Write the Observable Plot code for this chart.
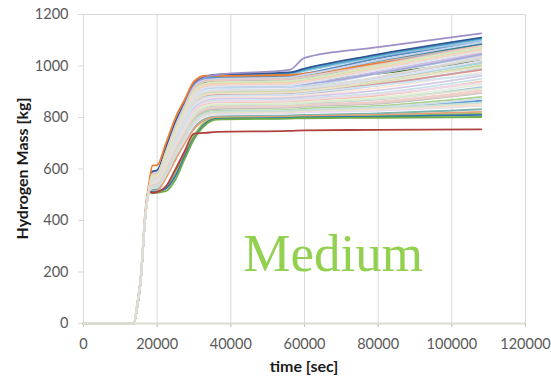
<!DOCTYPE html>
<html>
<head>
<meta charset="utf-8">
<script src="https://cdn.jsdelivr.net/npm/d3@7"></script>
<script src="https://cdn.jsdelivr.net/npm/@observablehq/plot@0.6"></script>
<style>
  html, body { margin: 0; padding: 0; background: #fff; }
  #chart { width: 551px; height: 378px; }
</style>
</head>
<body>
<div id="chart"></div>
<script>
// time grid (sec)
const times = [0, 13600, 14600, 15500, 16800, 17800, 18700, 20000, 22500, 25000, 27500, 30000, 33000, 36000, 56000, 60000, 80000, 108000];

// hydrogen mass per run (kg), one list per run (saturated runs first, pale runs on top)
const runs = [
  [0,0,72,170,425,525,585,588,680,770,845,918,948,950,955,962,1015,1082],
  [0,0,68,165,418,518,560,565,650,750,830,905,938,942,948,955,1010,1075],
  [0,0,70,168,422,522,580,585,675,775,850,925,952,958,968,980,1035,1098],
  [0,0,68,165,420,520,570,575,665,765,845,920,950,960,972,985,1040,1105],
  [0,0,70,167,420,520,572,575,660,755,835,908,945,952,958,965,1020,1085],
  [0,0,70,165,420,520,565,570,660,760,840,915,945,955,960,970,1030,1090],
  [0,0,72,170,425,525,590,595,690,785,860,930,958,966,975,990,1045,1110],
  [0,0,70,166,420,520,562,565,640,730,805,875,935,938,940,942,970,1020],
  [0,0,66,162,416,516,520,522,575,650,715,775,808,818,822,826,836,865],
  [0,0,66,162,416,516,515,518,572,640,705,760,795,804,808,810,816,832],
  [0,0,66,162,416,516,512,515,568,636,700,755,790,800,803,806,810,822],
  [0,0,65,161,415,514,508,511,530,590,660,730,782,796,800,802,805,815],
  [0,0,65,161,415,514,510,512,525,575,650,720,775,795,798,800,803,810],
  [0,0,64,160,414,512,505,508,515,560,640,715,770,792,796,797,799,802],
  [0,0,64,160,414,512,507,510,535,600,670,737,740,744,748,750,752,754],
  [0,0,80,180,440,545,613,615,705,800,870,940,963,962,965,970,1010,1065],
  [0,0,70,165,420,520,575,580,670,770,850,925,955,965,985,1032,1073,1127],
  [0,0,68,165,418,518,555,558,640,735,812,885,915,920,925,930,978,1050],
  [0,0,70,168,420,520,565,568,645,735,808,880,910,915,918,922,970,1040],
  [0,0,70,168,421,521,570,572,640,728,800,870,900,905,908,912,955,1030],
  [0,0,68,164,418,518,550,553,630,718,792,862,892,898,902,906,945,1015],
  [0,0,70,167,420,520,560,563,632,718,788,855,885,890,894,898,935,1000],
  [0,0,68,165,418,518,548,550,622,708,780,848,878,884,888,892,925,990],
  [0,0,70,168,421,521,565,567,628,710,778,842,872,878,882,886,915,975],
  [0,0,68,165,419,519,552,555,618,700,770,835,865,872,876,880,905,962],
  [0,0,70,167,420,520,558,560,620,698,765,828,858,865,870,874,895,950],
  [0,0,68,164,418,518,545,548,610,690,758,820,852,858,862,866,885,940],
  [0,0,70,167,420,520,555,557,612,688,752,815,845,852,856,860,878,928],
  [0,0,68,165,419,519,548,550,602,680,745,808,838,845,850,854,870,918],
  [0,0,70,168,421,521,560,562,608,682,742,802,832,840,845,849,862,905],
  [0,0,68,164,418,518,540,542,595,672,735,795,825,833,838,842,854,895],
  [0,0,67,163,417,517,535,538,590,665,728,788,818,826,830,834,845,880],
  [0,0,68,165,418,518,545,548,592,662,722,780,812,820,825,828,835,855],
  [0,0,67,163,417,517,532,535,582,652,712,770,805,812,816,819,826,845],
  [0,0,70,168,421,521,568,570,650,742,818,888,918,922,926,930,972,1045],
  [0,0,69,166,419,519,555,558,636,724,796,865,895,900,905,912,950,1010],
  [0,0,68,165,418,518,550,552,625,712,785,852,882,888,892,896,930,985],
  [0,0,71,169,422,522,575,578,662,752,828,900,930,936,940,945,995,1055],
  [0,0,69,166,419,519,558,560,635,722,795,862,893,898,902,905,940,1002],
  [0,0,70,168,420,520,560,562,640,730,805,872,902,906,910,914,950,1020],
  [0,0,70,168,420,520,570,572,655,750,828,900,930,935,940,946,1000,1068],
  [0,0,72,170,424,524,578,580,660,748,822,895,925,930,934,940,990,1060],
  [0,0,69,166,419,519,562,565,645,738,815,884,916,921,926,934,985,1058],
  [0,0,70,167,420,520,567,570,652,746,822,892,922,927,932,940,992,1064],
  [0,0,68,165,418,518,553,556,628,716,788,858,888,894,898,903,942,995],
  [0,0,69,166,419,519,556,559,624,708,780,848,878,884,889,895,925,968],
  [0,0,68,164,418,518,548,551,614,694,762,826,856,862,866,870,890,935],
  [0,0,67,163,417,517,542,545,604,684,748,810,840,848,852,856,872,912],
  [0,0,67,163,417,517,538,541,598,676,740,800,830,838,842,846,858,898],
  [0,0,66,162,416,516,530,533,586,660,725,785,815,823,827,830,840,872],
  [0,0,66,162,416,516,525,528,580,655,718,778,810,818,822,825,832,848],
  [0,0,71,169,423,523,582,586,672,768,846,918,946,950,956,966,1022,1092],
  [0,0,71,169,422,522,578,582,668,760,838,910,940,944,950,958,1005,1078],
  [0,0,70,168,421,521,572,575,658,752,830,902,932,937,942,950,1000,1072],
  [0,0,66,162,416,516,528,531,584,658,722,782,814,822,826,829,838,858],
  [0,0,69,166,419,519,560,563,632,722,795,866,898,903,908,915,958,1035]
];

const runColors = [
  "#f4b183","#8faadc","#9dc3e6","#4bacc6","#31859c","#5a8fc0","#2f5597","#548235",
  "#5b9bd5","#7eb5b0","#e8a07a","#9bbb59","#2e75b6","#70ad47","#b0413e","#ed7d31",
  "#9f8fc9",
  "#c9c0e0","#bdd7ee","#d0cece","#e6b8b7","#d9ead3","#b4c7e7","#fbe5d6","#d5c8e8",
  "#c6e2e8","#f2c2b0","#e2efda","#a9c4e0","#f4cccc","#c0c0c0","#a9d18e","#fce4d6",
  "#e4dff0","#a9a9d9","#a5d7e0","#d99694","#f9d0a8","#c4d79b","#dae3f3","#c5e0b4",
  "#f8cbad",
  "#dde4f0","#f6d5c3","#e9e2c8","#cfe3f0","#f0d9e6","#dbe8cc","#e8d0c8","#d3dfe8",
  "#f2e0c8","#c8d4ec","#ecc8c0","#d8e8c0","#c8e0d8","#e0dcd8"
];

const xTicks = [0, 20000, 40000, 60000, 80000, 100000, 120000];
const yTicks = [0, 200, 400, 600, 800, 1000, 1200];
const xTitle = "time [sec]";
const yTitle = "Hydrogen Mass [kg]";
const annotation = [{label: "Medium", time: 43400, mass: 268}];

const data = runs.flatMap((vals, i) => vals.map((v, j) => ({run: i, time: times[j], mass: v, color: runColors[i]})));

const W = 551, H = 378;
const chart = Plot.plot({
  width: W,
  height: H,
  marginLeft: 83,
  marginRight: 26,
  marginTop: 14,
  marginBottom: 55,
  style: {fontFamily: "Lato, 'Open Sans', sans-serif", fontSize: "14.5px", color: "#595959", background: "#fff"},
  x: {domain: [0, 120000]},
  y: {domain: [0, 1200]},
  color: {type: "identity"},
  marks: [
    Plot.ruleX(xTicks.slice(1), {y1: -12, y2: 1200, stroke: "#d9d9d9", strokeWidth: 1}),
    Plot.ruleY([1200], {stroke: "#d9d9d9", strokeWidth: 1}),
    Plot.axisX(xTicks, {tickSize: 4, tickPadding: 11, stroke: "#bfbfbf", tickFormat: d => String(d), label: null}),
    Plot.axisY(yTicks, {tickSize: 5, tickPadding: 10, stroke: "#d9d9d9", tickFormat: d => String(d), label: null}),
    Plot.ruleX([0], {stroke: "#d9d9d9"}),
    Plot.line(data, {x: "time", y: "mass", z: "run", stroke: "color", strokeWidth: 1.8, curve: "monotone-x"}),
    Plot.ruleY([0], {stroke: "#dcdcd2", strokeWidth: 2.2}),
    Plot.text(annotation, {x: "time", y: "mass", text: "label", textAnchor: "start", lineAnchor: "middle",
      fill: "#92d050", fontSize: 53, fontFamily: "'Liberation Serif', 'Times New Roman', serif"})
  ]
});

const svg = d3.select(chart);
svg.append("text")
  .attr("x", (83 + (W - 26)) / 2)
  .attr("y", 366)
  .attr("dy", "0.35em")
  .attr("text-anchor", "middle")
  .style("font-family", "Lato, 'Open Sans', sans-serif")
  .style("font-size", "16px")
  .style("font-weight", "bold")
  .style("fill", "#1a1a1a")
  .text(xTitle);
svg.append("text")
  .attr("transform", `translate(22, ${(14 + 323) / 2}) rotate(-90)`)
  .attr("dy", "0.35em")
  .attr("text-anchor", "middle")
  .style("font-family", "Lato, 'Open Sans', sans-serif")
  .style("font-size", "16px")
  .style("font-weight", "bold")
  .style("fill", "#1a1a1a")
  .text(yTitle);

document.getElementById("chart").appendChild(chart);
</script>
</body>
</html>
